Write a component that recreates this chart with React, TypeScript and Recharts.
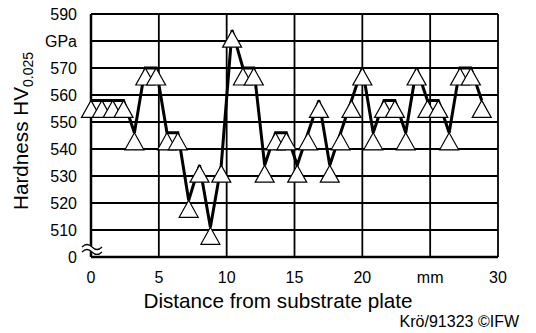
import { LineChart, Line, XAxis, YAxis, CartesianGrid } from 'recharts';

// distance from substrate plate (mm)
const distances = [
  0, 0.8, 1.6, 2.4, 3.2, 4.0, 4.8, 5.6, 6.4, 7.2, 8.0, 8.8, 9.6, 10.4, 11.2, 12.0, 12.8, 13.6, 14.4,
  15.2, 16.0, 16.8, 17.6, 18.4, 19.2, 20.0, 20.8, 21.6, 22.4, 23.2, 24.0, 24.8, 25.6, 26.4, 27.2, 28.0, 28.8,
];
// hardness HV0.025
const hardness = [
  558, 558, 558, 558, 546, 570, 570, 546, 546, 521, 534, 511, 534, 584, 570, 570, 534, 546, 546,
  534, 546, 558, 534, 546, 558, 570, 546, 558, 558, 546, 570, 558, 558, 546, 570, 570, 558,
];

const xTicks = [0, 5, 10, 15, 20, 25, 30];
const yTicks = [500, 510, 520, 530, 540, 550, 560, 570, 580, 590];

const data = distances.map((d, i) => ({ d, hv: hardness[i] }));

const FONT = '"Liberation Sans", Arial, sans-serif';

const Triangle = (props: any) => {
  const { cx, cy, index } = props;
  if (cx == null || cy == null) return <g key={`t-${index}`} />;
  const w = 9.5;
  const h = 17;
  return (
    <path
      key={`t-${index}`}
      d={`M${cx},${cy} L${cx + w},${cy + h} L${cx - w},${cy + h} Z`}
      fill="#fff"
      stroke="#000"
      strokeWidth={1.2}
    />
  );
};

export default function App() {
  return (
    <div style={{ position: 'relative', width: 536, height: 333, background: '#fff' }}>
      <style>{`body{margin:0}`}</style>
      <LineChart
        width={536}
        height={333}
        data={data}
        margin={{ top: 14, right: 38, left: 0, bottom: 46 }}
      >
        <CartesianGrid stroke="#000" strokeWidth={1.8} ticks={yTicks as any} />
        <XAxis
          dataKey="d"
          type="number"
          domain={[0, 30]}
          ticks={xTicks}
          height={30}
          tickLine={false}
          tickSize={0}
          tickMargin={15}
          axisLine={{ stroke: '#000', strokeWidth: 2.5 }}
          tick={{ fill: '#000', fontSize: 16, fontFamily: FONT }}
          tickFormatter={(v) => (v === 25 ? 'mm' : String(v))}
          interval={0}
        />
        <YAxis
          type="number"
          domain={[500, 590]}
          ticks={yTicks}
          width={91}
          tickLine={false}
          tickSize={0}
          tickMargin={14}
          axisLine={{ stroke: '#000', strokeWidth: 2.5 }}
          tick={{ fill: '#000', fontSize: 16, fontFamily: FONT }}
          tickFormatter={(v) => (v === 500 ? '0' : v === 580 ? 'GPa' : String(v))}
          interval={0}
        />
        <Line
          type="linear"
          dataKey="hv"
          stroke="#000"
          strokeWidth={3}
          dot={Triangle}
          activeDot={false}
          isAnimationActive={false}
        />
      </LineChart>
      <svg
        width={536}
        height={333}
        style={{ position: 'absolute', left: 0, top: 0, pointerEvents: 'none' }}
        fontFamily={FONT}
      >
        {/* axis break */}
        <path d="M82,247 q5,-5 10,0 t10,0 L102,252 q-5,5 -10,0 t-10,0 Z" fill="#fff" stroke="none" />
        <path d="M82,247 q5,-5 10,0 t10,0" fill="none" stroke="#000" strokeWidth={1.2} />
        <path d="M82,252 q5,-5 10,0 t10,0" fill="none" stroke="#000" strokeWidth={1.2} />
        <text
          x={28}
          y={131}
          fontSize={20.7}
          textAnchor="middle"
          transform="rotate(-90 28 131)"
          fill="#000"
        >
          Hardness HV
          <tspan fontSize={14} dy={5}>0.025</tspan>
        </text>
        <text x={278} y={308} fontSize={20.7} textAnchor="middle" fill="#000">
          Distance from substrate plate
        </text>
        <text x={519} y={327} fontSize={16} textAnchor="end" fill="#000">
          Krö/91323 ©IFW
        </text>
      </svg>
    </div>
  );
}
